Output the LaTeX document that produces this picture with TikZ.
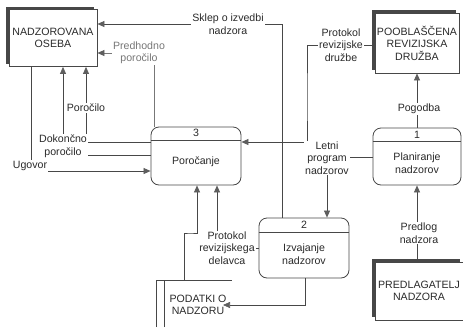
\documentclass[tikz,border=0pt]{standalone}
\usepackage{fontspec}
\setmainfont{Liberation Sans}
\usetikzlibrary{arrows.meta,shadows}
\definecolor{ink}{HTML}{2A2A2A}
\definecolor{ln}{HTML}{474747}
\definecolor{tip}{HTML}{5E5E5E}
\definecolor{soft}{HTML}{777777}
\begin{document}
\begin{tikzpicture}[x=1pt,y=-1pt,
  font=\fontsize{10.6}{12.5}\selectfont,
  entity/.style={draw=ln, fill=white, line width=0.8pt, align=center, text=ink, inner sep=0pt,
    general shadow={shadow xshift=-3.5pt, shadow yshift=3pt, fill=black!72}},
  proc/.style={draw=ln, fill=white, line width=0.8pt, rounded corners=8pt, inner sep=0pt},
  ptext/.style={align=center, text=ink, inner sep=0pt},
  flow/.style={draw=ln, line width=0.7pt, -{Triangle[length=7pt,width=6pt,color=tip]}},
  plain/.style={draw=ln, line width=0.7pt},
  lbl/.style={fill=white, inner sep=1pt, align=center, text=ink}]
\useasboundingbox (0,0) rectangle (463,327);

% external entities
\node[entity, minimum width=88pt, minimum height=57pt] (NO) at (53,38) {NADZOROVANA\\OSEBA};
\node[entity, minimum width=84pt, minimum height=60pt] (PRD) at (417,43) {POOBLAŠČENA\\REVIZIJSKA\\DRUŽBA};
\node[entity, minimum width=88pt, minimum height=58pt] (PN) at (419,291) {PREDLAGATELJ\\NADZORA};

% processes
\node[proc, minimum width=90pt, minimum height=58pt] (P3) at (196,156) {};
\draw[plain] (P3.west |- 0,140) -- (P3.east |- 0,140);
\node[ptext] (P3n) at (196,133) {3};
\node[ptext] (P3t) at (196,162) {Poročanje};

\node[proc, minimum width=88pt, minimum height=57pt] (P1) at (417,156.5) {};
\draw[plain] (P1.west |- 0,141) -- (P1.east |- 0,141);
\node[ptext] (P1n) at (417,135) {1};
\node[ptext] (P1t) at (417,163) {Planiranje\\nadzorov};

\node[proc, minimum width=90pt, minimum height=60pt] (P2) at (304,248) {};
\draw[plain] (P2.west |- 0,232) -- (P2.east |- 0,232);
\node[ptext] (P2n) at (304,225) {2};
\node[ptext] (P2t) at (304,254) {Izvajanje\\nadzorov};

% data store
\node[minimum width=75pt, minimum height=46pt, inner sep=0pt] (DS) at (194.5,304) {};
\draw[plain] (DS.south west) -- (DS.north west) -- (DS.north east);
\draw[plain] (DS.south west -| 164,0) -- (DS.north west -| 164,0);
\node[ptext] (DSt) at (198,305) {PODATKI O\\NADZORU};

% connectors
\draw[flow] (P2.north -| 282,0) |- (NO.east |- 0,24);
\draw[flow, draw=soft] (P3.north -| 154,0) |- (NO.east |- 0,53);
\draw[flow] (P3.west |- 0,142) -| (NO.south -| 86,0);
\draw[flow] (P3.west |- 0,155) -| (NO.south -| 63,0);
\draw[flow] (NO.south -| 31,0) |- (P3.west |- 0,171);
\draw[flow] (PRD.west |- 0,45) -| (307,100) |- (P3.east |- 0,142);
\draw[flow] (P1.north) -- (PRD.south -| P1.north);
\draw[flow] (P1.west |- 0,157) -| (P2.north -| 327,0);
\draw[flow] (PN.north -| P1.south) -- (P1.south);
\draw[flow] (P2.west |- 0,248) -| (P3.south -| 217,0);
\draw[flow] (DS.north -| 184,0) |- (190,233) -| (P3.south -| 197,0);
\draw[flow] (P2.south -| 305,0) |- (223,305);

% labels
\node[lbl] (L1) at (228,24) {Sklep o izvedbi\\nadzora};
\node[lbl, text=soft] (L2) at (139,53) {Predhodno\\poročilo};
\node[lbl] (L3) at (86,108) {Poročilo};
\node[lbl] (L4) at (63,146) {Dokončno\\poročilo};
\node[lbl] (L5) at (30,166) {Ugovor};
\node[lbl] (L6) at (341,45) {Protokol\\revizijske\\družbe};
\node[lbl] (L7) at (419,109) {Pogodba};
\node[lbl] (L8) at (327,158) {Letni\\program\\nadzorov};
\node[lbl] (L9) at (419,233) {Predlog\\nadzora};
\node[lbl] (L10) at (227,248) {Protokol\\revizijskega\\delavca};
\end{tikzpicture}
\end{document}
